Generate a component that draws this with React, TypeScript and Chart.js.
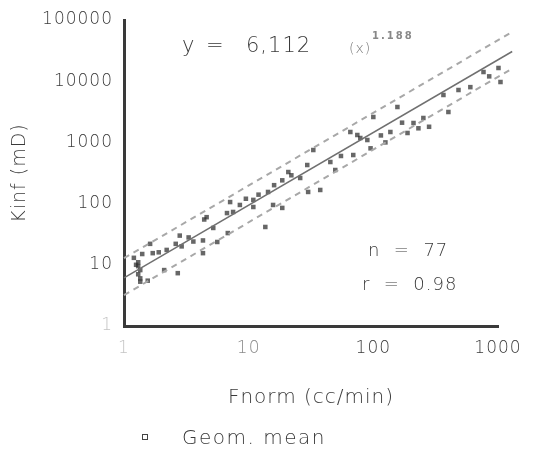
import React, { useEffect, useRef } from 'react';
import { Chart, registerables } from 'chart.js';

Chart.register(...registerables);

// Geometric-mean points: Fnorm (cc/min) and Kinf (mD)
const fnorm = [
  1.2, 1.3, 1.3, 1.35, 1.3, 1.35, 1.35, 1.55, 1.25, 1.4,
  1.62, 1.7, 1.9, 2.2, 2.1, 2.7, 2.6, 2.8, 2.9,
  3.3, 3.6, 4.3, 4.3, 4.6, 4.4, 5.6, 5.2, 6.8, 6.7, 7.1, 7.5, 8.5, 9.5,
  10.9, 10.9, 12, 13.6, 14.3, 15.7, 16, 18.6, 18.6, 20.8, 22, 25.9, 29.5, 30, 33, 37.5,
  45.2, 49.5, 55, 65.4, 69, 74.4, 78.6, 89.5, 100, 95, 115, 137, 125,
  156, 188, 170, 210, 230, 252, 280, 365, 400, 482, 600, 765, 850, 1009, 1047,
];
const kinf = [
  13, 11, 9.5, 8.2, 7, 6, 5.3, 5.5, 10, 15,
  22, 15.5, 16, 17.5, 8.2, 7.3, 22, 30, 20,
  28, 24, 15.5, 25, 60, 55, 23.6, 40, 33, 70, 106, 73, 95, 120,
  115, 88, 140, 41.5, 155, 95, 200, 85, 240, 328, 290, 262, 427, 155, 751, 167,
  478, 354, 600, 1479, 622, 1321, 1180, 1094, 2600, 800, 1300, 1479, 1000,
  3788, 1425, 2100, 2075, 1700, 2505, 1800, 5953, 3139, 7180, 8000, 14130, 12000, 16440, 9700,
];

// Regression y = 6.112 x^1.188 and its band (end points)
const lineX = [1, 1300];
const fitY = [6.112, 30590];
const upperY = [12.8, 64000];
const lowerY = [3.2, 16100];

const xTickValues = [1, 10, 100, 1000];
const xTickLabels = ['1', '10', '100', '1000'];
const yTickValues = [1, 10, 100, 1000, 10000, 100000];
const yTickLabels = ['1', '10', '100', '1000', '10000', '100000'];

const xTitle = 'Fnorm (cc/min)';
const yTitle = 'Kinf (mD)';
const legendLabel = 'Geom. mean';
const eqLeft = 'y';
const eqMid = '=';
const eqCoef = '6,112';
const eqVar = '(x)';
const eqExp = '1.188';
const nText = 'n  =  77';
const rText = 'r  =  0.98';

const FONT = "'DejaVu Sans', sans-serif";
const W = '300';
const TEXT = '#3a3a3a';

export default function App() {
  const ref = useRef<HTMLCanvasElement | null>(null);

  useEffect(() => {
    if (!ref.current) return;
    const spacing = {
      id: 'spacing',
      beforeDraw(chart: any) {
        chart.ctx.letterSpacing = '1px';
      },
    };
    const pts = fnorm.map((x, i) => ({ x, y: kinf[i] }));
    const mk = (ys: number[]) => lineX.map((x, i) => ({ x, y: ys[i] }));
    const chart = new Chart(ref.current, {
      type: 'scatter',
      data: {
        datasets: [
          {
            label: 'upper',
            data: mk(upperY),
            showLine: true,
            borderColor: '#a8a8a8',
            borderWidth: 2,
            borderDash: [6, 5],
            pointRadius: 0,
            clip: false,
          } as any,
          {
            label: 'lower',
            data: mk(lowerY),
            showLine: true,
            borderColor: '#a8a8a8',
            borderWidth: 2,
            borderDash: [6, 5],
            pointRadius: 0,
            clip: false,
          } as any,
          {
            label: 'fit',
            data: mk(fitY),
            showLine: true,
            borderColor: '#707070',
            borderWidth: 1.5,
            pointRadius: 0,
            clip: false,
          } as any,
          {
            label: legendLabel,
            data: pts,
            pointStyle: 'rect',
            pointRadius: 3.2,
            backgroundColor: 'rgba(45,45,45,0.72)',
            borderWidth: 0,
            clip: false,
          } as any,
        ],
      },
      options: {
        animation: false,
        responsive: false,
        devicePixelRatio: 1,
        layout: { padding: { left: 0, top: 20, right: 42, bottom: 35 } },
        plugins: { legend: { display: false }, tooltip: { enabled: false } },
        font: { family: FONT },
        scales: {
          x: {
            type: 'logarithmic',
            min: 1,
            max: 1000,
            afterBuildTicks: (s: any) => {
              s.ticks = xTickValues.map((v) => ({ value: v }));
            },
            afterFit: (s: any) => {
              s.height = 93;
              s.paddingLeft = 0;
              s.paddingRight = 0;
            },
            grid: { display: false, drawTicks: false },
            border: { display: true, color: '#3a3a3a', width: 3 },
            ticks: {
              autoSkip: false,
              maxRotation: 0,
              padding: 12,
              font: { family: FONT, size: 17, weight: W },
              color: (c: any) => (c.tick && c.tick.value === 1 ? '#c4c4c4' : c.tick && c.tick.value === 10 ? '#8a8a8a' : TEXT),
              callback: (v: any) => xTickLabels[xTickValues.indexOf(Number(v))],
            },
            title: {
              display: true,
              text: xTitle,
              color: TEXT,
              font: { family: FONT, size: 20, weight: W },
              padding: { top: 0, bottom: 9 },
            },
          },
          y: {
            type: 'logarithmic',
            min: 1,
            max: 100000,
            afterBuildTicks: (s: any) => {
              s.ticks = yTickValues.map((v) => ({ value: v }));
            },
            afterFit: (s: any) => {
              s.width = 124;
              s.paddingTop = 0;
              s.paddingBottom = 0;
            },
            grid: { display: false, drawTicks: false },
            border: { display: true, color: '#3a3a3a', width: 3 },
            ticks: {
              autoSkip: false,
              padding: 11,
              font: { family: FONT, size: 17, weight: W },
              color: (c: any) => (c.tick && c.tick.value === 1 ? '#c4c4c4' : TEXT),
              callback: (v: any) => yTickLabels[yTickValues.indexOf(Number(v))],
            },
            title: {
              display: true,
              text: yTitle,
              color: TEXT,
              font: { family: FONT, size: 19, weight: W },
              padding: { top: 9, bottom: 0 },
            },
          },
        },
      } as any,
      plugins: [spacing],
    });
    return () => chart.destroy();
  }, []);

  const txt = (extra: React.CSSProperties): React.CSSProperties => ({
    position: 'absolute',
    fontFamily: FONT,
    fontWeight: 300,
    lineHeight: 1,
    whiteSpace: 'pre',
    letterSpacing: '1px',
    color: TEXT,
    ...extra,
  });

  return (
    <div style={{ position: 'absolute', left: 0, top: 0, width: 540, height: 454, background: '#fff' }}>
      <canvas ref={ref} width={540} height={454} style={{ width: 540, height: 454, display: 'block' }} />
      <span style={txt({ left: 182, top: 35, fontSize: 21 })}>{eqLeft}</span>
      <span style={txt({ left: 206, top: 35, fontSize: 21, color: '#666' })}>{eqMid}</span>
      <span style={txt({ left: 246, top: 35, fontSize: 21 })}>{eqCoef}</span>
      <span style={txt({ left: 349, top: 41, fontSize: 14, color: '#777' })}>{eqVar}</span>
      <span style={txt({ left: 372, top: 31, fontSize: 10, color: '#888', fontWeight: 'bold', letterSpacing: '2px' })}>{eqExp}</span>
      <span style={txt({ left: 368, top: 241, fontSize: 18 })}>{nText}</span>
      <span style={txt({ left: 362, top: 275, fontSize: 18 })}>{rText}</span>
      <span
        style={{
          position: 'absolute',
          left: 142,
          top: 434,
          width: 4,
          height: 4,
          border: '1.5px solid #444',
        }}
      />
      <span style={txt({ left: 182, top: 427, fontSize: 20, letterSpacing: '1.5px' })}>{legendLabel}</span>
    </div>
  );
}
